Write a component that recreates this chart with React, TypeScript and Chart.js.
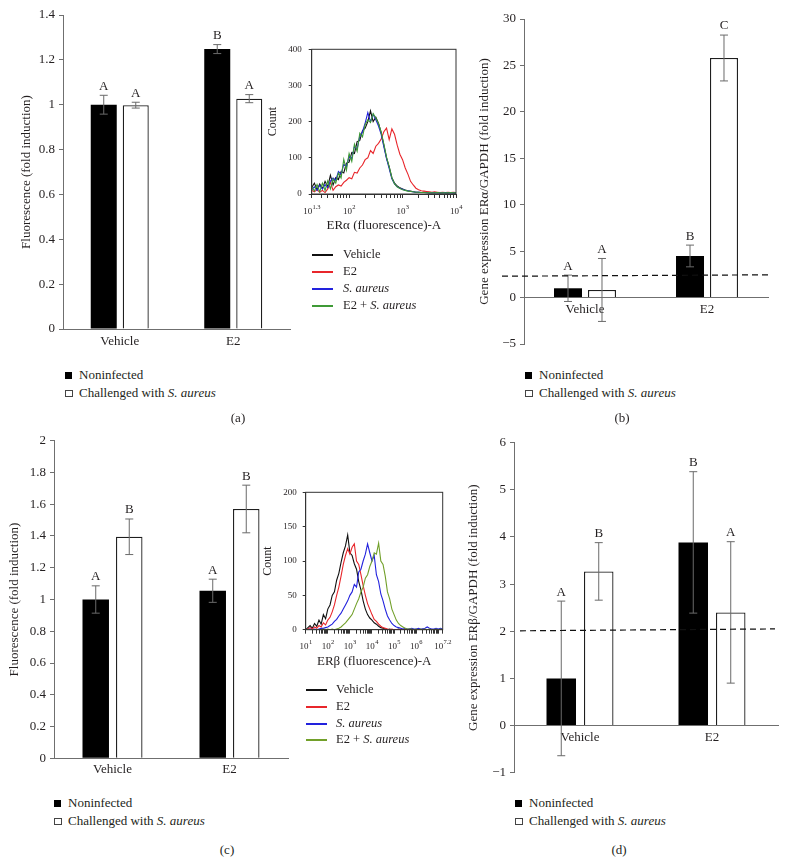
import React, { useEffect, useRef } from 'react';
import { Chart, registerables } from 'chart.js';
Chart.register(...registerables);

const FONT = '"Liberation Serif", "Times New Roman", serif';
const INK = '#231f20';
const AXIS = '#6f6f6f';
const ERR = '#6a6a6a';

const categories = ['Vehicle', 'E2'];
const seriesNames = ['Noninfected', 'Challenged with S. aureus'];

// Panel (a): ERα fluorescence
const aNoninfected = [1.0, 1.248];
const aNoninfectedErr = [0.042, 0.02];
const aChallenged = [0.998, 1.027];
const aChallengedErr = [0.013, 0.018];
const aLettersNoninfected = ['A', 'B'];
const aLettersChallenged = ['A', 'A'];

// Panel (b): ERα gene expression
const bNoninfected = [1.0, 4.48];
const bNoninfectedErr = [1.42, 1.17];
const bChallenged = [0.82, 25.8];
const bChallengedErr = [3.39, 2.47];
const bLettersNoninfected = ['A', 'B'];
const bLettersChallenged = ['A', 'C'];
const bThreshold = [2.3, 2.45];

// Panel (c): ERβ fluorescence
const cNoninfected = [1.0, 1.055];
const cNoninfectedErr = [0.086, 0.073];
const cChallenged = [1.395, 1.57];
const cChallengedErr = [0.112, 0.15];
const cLettersNoninfected = ['A', 'A'];
const cLettersChallenged = ['B', 'B'];

// Panel (d): ERβ gene expression
const dNoninfected = [1.0, 3.885];
const dNoninfectedErr = [1.64, 1.5];
const dChallenged = [3.27, 2.4];
const dChallengedErr = [0.61, 1.5];
const dLettersNoninfected = ['A', 'B'];
const dLettersChallenged = ['B', 'A'];
const dThreshold = [2.01, 2.05];

// Inset histogram (a): x = log10 fluorescence
const histLabels = ['Vehicle', 'E2', 'S. aureus', 'E2 + S. aureus'];
const histAX = [1.30, 1.35, 1.40, 1.45, 1.50, 1.55, 1.60, 1.65, 1.70, 1.75, 1.80, 1.85, 1.90, 1.95,
  2.00, 2.05, 2.10, 2.15, 2.20, 2.25, 2.30, 2.35, 2.40, 2.45, 2.50, 2.55, 2.60, 2.65, 2.70, 2.75, 2.80, 2.85, 2.90, 2.95,
  3.00, 3.05, 3.10, 3.15, 3.20, 3.25, 3.30, 3.35, 3.40, 3.45, 3.50, 3.55, 3.60, 3.65, 3.70, 3.75, 3.80, 3.85, 3.90, 3.95,
  4.00];
const histAVehicle = [18, 30, 12, 28, 15, 35, 20, 52, 25, 45, 40, 62, 58, 85,
  88, 115, 112, 145, 148, 175, 182, 200, 230, 200, 212, 195, 170, 135, 100, 75, 45, 30, 22, 17,
  14, 11, 9, 8, 6, 5, 5, 4, 5, 4, 3, 4, 3, 4, 3, 4, 3, 3, 4, 3,
  3];
const histAE2 = [10, 6, 12, 5, 10, 4, 14, 32, 10, 20, 25, 22, 32, 38,
  45, 42, 60, 58, 72, 80, 95, 100, 120, 112, 132, 140, 152, 172, 182, 150, 180, 165, 135, 110,
  95, 72, 55, 35, 25, 16, 12, 9, 8, 7, 6, 5, 6, 5, 4, 5, 4, 5, 4, 5,
  4];
const histASAureus = [12, 20, 10, 24, 14, 26, 18, 36, 44, 38, 62, 55, 82, 76,
  105, 98, 132, 125, 160, 172, 196, 225, 200, 220, 205, 188, 165, 130, 98, 70, 42, 28, 20, 16,
  13, 10, 9, 7, 6, 5, 5, 4, 4, 4, 3, 3, 4, 3, 3, 3, 4, 3, 3, 3,
  3];
const histAE2SAureus = [20, 8, 26, 6, 30, 10, 36, 14, 42, 30, 58, 44, 96, 66,
  112, 90, 138, 118, 168, 158, 192, 205, 198, 222, 210, 195, 170, 138, 102, 75, 45, 28, 20, 15,
  12, 10, 8, 7, 6, 5, 5, 4, 4, 3, 4, 3, 3, 4, 3, 3, 3, 3, 4, 3,
  3];
const histAMajorTicks = [1.3, 2, 3, 4];
const histAMajorLabels = ['1.3', '2', '3', '4'];

// Inset histogram (c)
const histCX = [1.0, 1.1, 1.2, 1.3, 1.4, 1.5, 1.6, 1.7, 1.8, 1.9,
  2.0, 2.1, 2.2, 2.3, 2.4, 2.5, 2.6, 2.7, 2.8, 2.9,
  3.0, 3.1, 3.2, 3.3, 3.4, 3.5, 3.6, 3.7, 3.8, 3.9,
  4.0, 4.1, 4.2, 4.3, 4.4, 4.5, 4.6, 4.7, 4.8, 4.9,
  5.0, 5.1, 5.2, 5.3, 5.4, 5.5, 5.6, 5.7, 5.8, 5.9,
  6.0, 6.1, 6.2, 6.3, 6.4, 6.5, 6.6, 6.7, 6.8, 6.9,
  7.0, 7.1, 7.2];
const histCVehicle = [0, 3, 6, 2, 9, 5, 14, 8, 22, 16,
  30, 36, 50, 55, 72, 82, 98, 112, 122, 138,
  112, 108, 96, 88, 70, 58, 42, 30, 22, 17,
  14, 10, 8, 5, 3, 2, 1, 0, 1, 0,
  0, 0, 1, 0, 0, 0, 0, 1, 0, 0,
  0, 0, 0, 1, 0, 0, 0, 0, 0, 0,
  0, 0, 0];
const histCE2 = [0, 1, 3, 1, 4, 2, 6, 4, 10, 7,
  14, 18, 26, 36, 50, 62, 78, 95, 108, 118,
  110, 120, 125, 100, 95, 80, 64, 50, 38, 30,
  22, 15, 12, 8, 5, 3, 2, 1, 0, 1,
  0, 0, 0, 1, 0, 0, 0, 0, 0, 0,
  0, 0, 0, 0, 0, 0, 0, 0, 0, 0,
  0, 0, 0];
const histCSAureus = [0, 0, 1, 0, 1, 0, 1, 2, 2, 3,
  4, 6, 8, 12, 15, 20, 24, 30, 36, 42,
  50, 55, 66, 62, 84, 88, 100, 110, 125, 112,
  100, 108, 80, 70, 52, 42, 30, 20, 14, 9,
  6, 4, 3, 2, 1, 2, 1, 1, 2, 1,
  1, 2, 1, 1, 2, 4, 2, 1, 1, 2,
  1, 2, 1];
const histCE2SAureus = [0, 0, 0, 0, 0, 0, 0, 0, 1, 0,
  1, 0, 1, 0, 1, 2, 4, 7, 10, 14,
  18, 22, 30, 38, 45, 55, 62, 75, 80, 92,
  100, 112, 110, 126, 100, 95, 78, 55, 45, 30,
  22, 14, 9, 6, 4, 2, 1, 1, 1, 0,
  1, 0, 1, 0, 1, 0, 1, 0, 0, 1,
  0, 1, 0];
const histCMajorTicks = [1, 2, 3, 4, 5, 6, 7.2];
const histCMajorLabels = ['1', '2', '3', '4', '5', '6', '7.2'];

const fmt = (v: any) => {
  const n = Math.round(Number(v) * 100) / 100;
  return n < 0 ? '\u2212' + Math.abs(n) : String(n);
};

function logMinorTicks(min: number, max: number) {
  const out: number[] = [];
  for (let n = Math.floor(min); n <= Math.ceil(max); n++) {
    for (let k = 1; k <= 9; k++) {
      const v = n + Math.log10(k);
      if (v >= min - 1e-6 && v <= max + 1e-6) out.push(v);
    }
  }
  return out;
}

type BarSpec = {
  noninf: number[]; noninfErr: number[]; chal: number[]; chalErr: number[];
  lettersN: string[]; lettersC: string[];
  min: number; max: number; step: number;
  title: string; titleOffset: number; yWidth: number;
  padding: { left: number; top: number; right: number; bottom: number };
  catPct: number; barPct: number; xPad: number;
  threshold?: number[]; thrFrom?: number; thrTo?: number;
};

function makeBar(canvas: HTMLCanvasElement, s: BarSpec) {
  const errPlugin = {
    id: 'errbars',
    afterDatasetsDraw(chart: any) {
      const ctx = chart.ctx;
      const y = chart.scales.y;
      const sets: [number[], number[], string[]][] = [
        [s.noninf, s.noninfErr, s.lettersN],
        [s.chal, s.chalErr, s.lettersC],
      ];
      ctx.save();
      sets.forEach((set, di) => {
        const meta = chart.getDatasetMeta(di);
        meta.data.forEach((bar: any, j: number) => {
          const v = set[0][j];
          const e = set[1][j];
          const x = bar.x;
          const yt = y.getPixelForValue(v + e);
          const yb = y.getPixelForValue(v - e);
          ctx.strokeStyle = ERR;
          ctx.lineWidth = 1;
          ctx.setLineDash([]);
          ctx.beginPath();
          ctx.moveTo(x, yt); ctx.lineTo(x, yb);
          ctx.moveTo(x - 4, yt); ctx.lineTo(x + 4, yt);
          ctx.moveTo(x - 4, yb); ctx.lineTo(x + 4, yb);
          ctx.stroke();
          ctx.fillStyle = INK;
          ctx.font = `13px ${FONT}`;
          ctx.textAlign = 'center';
          ctx.textBaseline = 'middle';
          ctx.fillText(set[2][j], x, yt - 9);
        });
      });
      if (s.threshold) {
        const ca = chart.chartArea;
        ctx.setLineDash([6, 4]);
        ctx.strokeStyle = '#111';
        ctx.lineWidth = 1.2;
        ctx.beginPath();
        ctx.moveTo(ca.left + (s.thrFrom || 0), y.getPixelForValue(s.threshold[0]));
        ctx.lineTo(ca.right + (s.thrTo || 0), y.getPixelForValue(s.threshold[1]));
        ctx.stroke();
      }
      ctx.restore();
    },
  };
  return new Chart(canvas, {
    type: 'bar',
    data: {
      labels: categories,
      datasets: [
        { label: seriesNames[0], data: s.noninf, backgroundColor: '#000', borderColor: '#000', borderWidth: 0,
          categoryPercentage: s.catPct, barPercentage: s.barPct },
        { label: seriesNames[1], data: s.chal, backgroundColor: '#fff', borderColor: '#1e1e1e', borderWidth: 1.3,
          categoryPercentage: s.catPct, barPercentage: s.barPct },
      ],
    },
    options: {
      responsive: false,
      animation: false,
      events: [],
      layout: { padding: s.padding },
      plugins: { legend: { display: false }, tooltip: { enabled: false } },
      scales: {
        x: {
          position: { y: 0 } as any,
          grid: { display: false },
          border: { display: true, color: AXIS, width: 1 },
          ticks: { font: { family: FONT, size: 13 }, color: INK, padding: s.xPad, maxRotation: 0 },
        },
        y: {
          position: 'left',
          min: s.min,
          max: s.max,
          ticks: { stepSize: s.step, font: { family: FONT, size: 13 }, color: INK, padding: 4, callback: fmt },
          grid: { drawOnChartArea: false, drawTicks: true, tickLength: 4, color: AXIS },
          border: { display: true, color: AXIS, width: 1 },
          title: { display: true, text: s.title, font: { family: FONT, size: 13 }, color: INK,
            padding: { top: s.titleOffset, bottom: 0 } },
          afterFit: (sc: any) => { sc.width = s.yWidth; },
        },
      },
    } as any,
    plugins: [errPlugin],
  });
}

type HistSpec = {
  xs: number[]; series: number[][]; colors: string[];
  xMin: number; xMax: number; yMax: number; yStep: number;
  majors: number[]; majorLabels: string[];
  title: string; padding: { left: number; top: number; right: number; bottom: number };
  yWidth: number; xHeight: number; xTitlePad: number; countPad: number; labelOffset: number; yTickPad: number;
};

function makeHist(canvas: HTMLCanvasElement, s: HistSpec) {
  const minors = logMinorTicks(s.xMin, s.xMax);
  const allTicks = Array.from(new Set([...minors, ...s.majors])).sort((a, b) => a - b);
  const boxPlugin = {
    id: 'histbox',
    afterDraw(chart: any) {
      const ctx = chart.ctx;
      const ca = chart.chartArea;
      const xs = chart.scales.x;
      ctx.save();
      ctx.strokeStyle = '#333';
      ctx.lineWidth = 1;
      ctx.strokeRect(ca.left, ca.top, ca.right - ca.left, ca.bottom - ca.top);
      ctx.fillStyle = INK;
      ctx.textBaseline = 'middle';
      ctx.textAlign = 'left';
      s.majors.forEach((m, i) => {
        const x = xs.getPixelForValue(m);
        ctx.font = `9px ${FONT}`;
        const w1 = ctx.measureText('10').width;
        ctx.font = `6.5px ${FONT}`;
        const w2 = ctx.measureText(s.majorLabels[i]).width;
        const start = x - (w1 + w2) / 2;
        const yy = ca.bottom + s.labelOffset;
        ctx.font = `9px ${FONT}`;
        ctx.fillText('10', start, yy);
        ctx.font = `6.5px ${FONT}`;
        ctx.fillText(s.majorLabels[i], start + w1 + 0.3, yy - 4);
      });
      ctx.restore();
    },
  };
  return new Chart(canvas, {
    type: 'line',
    data: {
      datasets: s.series.map((ys, i) => ({
        label: histLabels[i],
        data: s.xs.map((x, j) => ({ x, y: ys[j] })),
        borderColor: s.colors[i],
        borderWidth: 1.1,
        pointRadius: 0,
        tension: 0,
        fill: false,
        order: 3 - i,
      })),
    },
    options: {
      responsive: false,
      animation: false,
      events: [],
      layout: { padding: s.padding },
      plugins: { legend: { display: false }, tooltip: { enabled: false } },
      scales: {
        x: {
          type: 'linear',
          position: 'bottom',
          min: s.xMin,
          max: s.xMax,
          afterBuildTicks: (sc: any) => { sc.ticks = allTicks.map((v) => ({ value: v })); },
          ticks: { display: false, autoSkip: false },
          grid: { drawOnChartArea: false, drawTicks: true, tickLength: 4, color: '#333' },
          border: { display: true, color: '#333', width: 1 },
          title: { display: true, text: s.title, font: { family: FONT, size: 13 }, color: INK,
            padding: { top: 0, bottom: s.xTitlePad } },
          afterFit: (sc: any) => { sc.height = s.xHeight; },
        },
        y: {
          min: 0,
          max: s.yMax,
          ticks: { stepSize: s.yStep, font: { family: FONT, size: 9 }, color: INK, padding: s.yTickPad },
          grid: { drawOnChartArea: false, drawTicks: true, tickLength: 3, color: '#333' },
          border: { display: true, color: '#333', width: 1 },
          title: { display: true, text: 'Count', font: { family: FONT, size: 12 }, color: INK,
            padding: { top: s.countPad, bottom: 0 } },
          afterFit: (sc: any) => { sc.width = s.yWidth; },
        },
      },
    } as any,
    plugins: [boxPlugin],
  });
}

const Txt = ({ x, y, size = 13, center = false, children }: any) => (
  <div style={{
    position: 'absolute', left: x, top: y - size * 0.62, fontSize: size, lineHeight: `${size * 1.2}px`,
    whiteSpace: 'nowrap', transform: center ? 'translateX(-50%)' : undefined, color: INK,
  }}>{children}</div>
);

const BarLegend = ({ sx, tx, y1, y2 }: any) => (
  <>
    <div style={{ position: 'absolute', left: sx, top: y1 - 3.5, width: 7, height: 7, background: '#000' }} />
    <Txt x={tx} y={y1}>{seriesNames[0]}</Txt>
    <div style={{ position: 'absolute', left: sx, top: y2 - 3.5, width: 5.6, height: 5.6, border: '0.8px solid #444', background: '#fff' }} />
    <Txt x={tx} y={y2}>Challenged with <i>S. aureus</i></Txt>
  </>
);

const HistLegend = ({ lx, lw, tx, rows, colors }: any) => (
  <>
    {rows.map((ry: number, i: number) => (
      <React.Fragment key={i}>
        <div style={{ position: 'absolute', left: lx, top: Math.round(ry) - 1, width: lw, height: 1.5, background: colors[i] }} />
        <Txt x={tx} y={ry} size={12.5}>
          {i === 0 && histLabels[0]}
          {i === 1 && histLabels[1]}
          {i === 2 && <i>{histLabels[2]}</i>}
          {i === 3 && <>E2 + <i>S. aureus</i></>}
        </Txt>
      </React.Fragment>
    ))}
  </>
);

const colorsA = ['#111111', '#e8262b', '#2222dd', '#3f9a36'];
const colorsC = ['#111111', '#e8262b', '#2222dd', '#72a02a'];

export default function App() {
  const refA = useRef<HTMLCanvasElement>(null);
  const refB = useRef<HTMLCanvasElement>(null);
  const refC = useRef<HTMLCanvasElement>(null);
  const refD = useRef<HTMLCanvasElement>(null);
  const refHA = useRef<HTMLCanvasElement>(null);
  const refHC = useRef<HTMLCanvasElement>(null);

  useEffect(() => {
    const charts = [
      makeBar(refA.current!, {
        noninf: aNoninfected, noninfErr: aNoninfectedErr, chal: aChallenged, chalErr: aChallengedErr,
        lettersN: aLettersNoninfected, lettersC: aLettersChallenged,
        min: 0, max: 1.4, step: 0.2, title: 'Fluorescence (fold induction)', titleOffset: 19.2, yWidth: 63,
        padding: { left: 0, top: 15, right: 10, bottom: 36 }, catPct: 0.564, barPct: 0.8125, xPad: -3,
      }),
      makeBar(refB.current!, {
        noninf: bNoninfected, noninfErr: bNoninfectedErr, chal: bChallenged, chalErr: bChallengedErr,
        lettersN: bLettersNoninfected, lettersC: bLettersChallenged,
        min: -5, max: 30, step: 5, title: 'Gene expression ER\u03b1/GAPDH (fold induction)', titleOffset: 57.2, yWidth: 104,
        padding: { left: 0, top: 19, right: 19, bottom: 21 }, catPct: 0.557, barPct: 0.824, xPad: -4,
        threshold: bThreshold, thrFrom: -22, thrTo: 2,
      }),
      makeBar(refC.current!, {
        noninf: cNoninfected, noninfErr: cNoninfectedErr, chal: cChallenged, chalErr: cChallengedErr,
        lettersN: cLettersNoninfected, lettersC: cLettersChallenged,
        min: 0, max: 2, step: 0.2, title: 'Fluorescence (fold induction)', titleOffset: 7.2, yWidth: 54,
        padding: { left: 0, top: 15.7, right: 12, bottom: 36.7 }, catPct: 0.573, barPct: 0.79, xPad: -5,
      }),
      makeBar(refD.current!, {
        noninf: dNoninfected, noninfErr: dNoninfectedErr, chal: dChallenged, chalErr: dChallengedErr,
        lettersN: dLettersNoninfected, lettersC: dLettersChallenged,
        min: -1, max: 6, step: 1, title: 'Gene expression ER\u03b2/GAPDH (fold induction)', titleOffset: 46.2, yWidth: 94,
        padding: { left: 0, top: 17.7, right: 9, bottom: 22.3 }, catPct: 0.568, barPct: 0.787, xPad: -4,
        threshold: dThreshold, thrFrom: 6, thrTo: -3,
      }),
      makeHist(refHA.current!, {
        xs: histAX, series: [histAVehicle, histAE2, histASAureus, histAE2SAureus], colors: colorsA,
        xMin: 1.3, xMax: 4, yMax: 400, yStep: 100, majors: histAMajorTicks, majorLabels: histAMajorLabels,
        title: 'ER\u03b1 (fluorescence)-A', padding: { left: 0, top: 14.3, right: 14, bottom: 6 },
        yWidth: 56.7, xHeight: 45, xTitlePad: 5.5, countPad: 10.8, labelOffset: 17.7, yTickPad: 7,
      }),
      makeHist(refHC.current!, {
        xs: histCX, series: [histCVehicle, histCE2, histCSAureus, histCE2SAureus], colors: colorsC,
        xMin: 1, xMax: 7.2, yMax: 200, yStep: 50, majors: histCMajorTicks, majorLabels: histCMajorLabels,
        title: 'ER\u03b2 (fluorescence)-A', padding: { left: 0, top: 22.3, right: 22.3, bottom: 5.3 },
        yWidth: 55.7, xHeight: 45, xTitlePad: 5, countPad: 10.8, labelOffset: 17, yTickPad: 6,
      }),
    ];
    return () => charts.forEach((c) => c.destroy());
  }, []);

  const abs = (l: number, t: number) => ({ position: 'absolute' as const, left: l, top: t });

  return (
    <div style={{ position: 'absolute', left: 0, top: 0, width: 787, height: 860, background: '#fff',
      fontFamily: FONT, color: INK, overflow: 'hidden' }}>
      <canvas ref={refA} width={300} height={365} style={abs(0, 0)} />
      <canvas ref={refB} width={367} height={365} style={abs(420, 0)} />
      <canvas ref={refC} width={300} height={370} style={abs(0, 425)} />
      <canvas ref={refD} width={367} height={370} style={abs(420, 425)} />
      <canvas ref={refHA} width={215} height={210} style={abs(255, 35)} />
      <canvas ref={refHC} width={215} height={210} style={abs(250, 470)} />

      <BarLegend sx={65} tx={79} y1={375.5} y2={393} />
      <BarLegend sx={525} tx={539} y1={375.5} y2={393} />
      <BarLegend sx={54} tx={68} y1={803.5} y2={821} />
      <BarLegend sx={515} tx={529} y1={803.5} y2={821} />

      <HistLegend lx={312} lw={21} tx={343} rows={[255, 272, 289, 306]} colors={colorsA} />
      <HistLegend lx={306} lw={21} tx={336} rows={[690, 707, 724, 740]} colors={colorsC} />

      <Txt x={238} y={418} center>(a)</Txt>
      <Txt x={622} y={418} center>(b)</Txt>
      <Txt x={227} y={850} center>(c)</Txt>
      <Txt x={619} y={850} center>(d)</Txt>
    </div>
  );
}
